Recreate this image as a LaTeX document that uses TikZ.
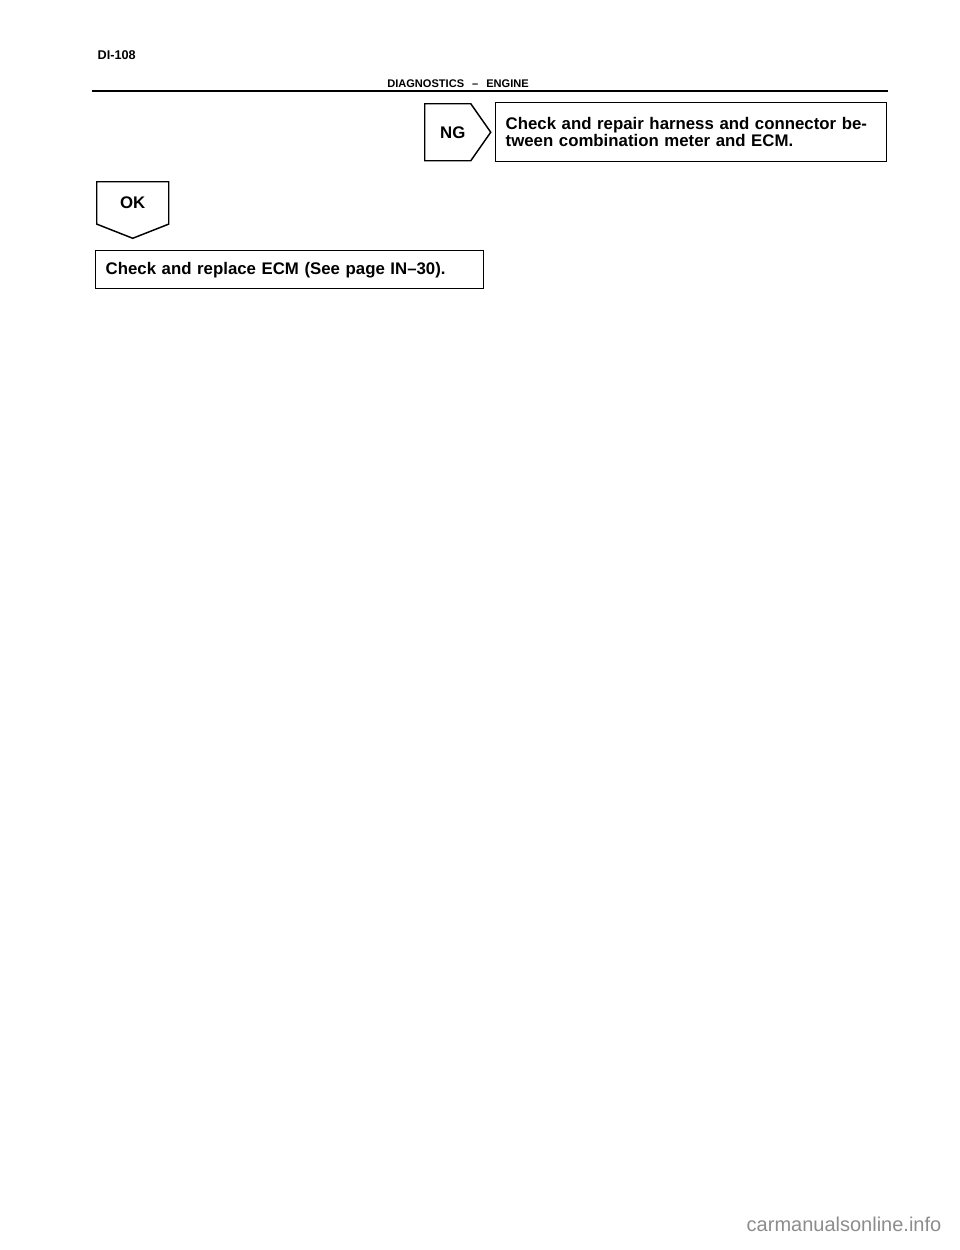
\documentclass[tikz,border=0pt]{standalone}
\usepackage{fontspec}
\setmainfont{Liberation Sans}
\usetikzlibrary{shapes.symbols,positioning}

\begin{document}
\begin{tikzpicture}[x=0.75pt, y=-0.75pt,
    every node/.style={font=\bfseries\fontsize{12.6}{12.75}\selectfont},
    stepbox/.style={draw, line width=1.1pt, rectangle, align=left, anchor=north west, inner xsep=7.5pt},
    tagbox/.style={draw, line width=1.1pt, signal, inner sep=0pt}]
    \useasboundingbox (0,0) rectangle (960,1250);
    % Header
    \node[anchor=west, font=\bfseries\fontsize{9.5}{12}\selectfont] (page) at (93,55) {DI-108};
    \node[font=\bfseries\fontsize{8.3}{9}\selectfont] (title) at (458,84) {DIAGNOSTICS \, -- \, ENGINE};
    \draw[line width=1.2pt] (92,91) -- (888,91);

    % Nodes
    \node[tagbox, signal to=east, signal pointer angle=110, minimum width=49.5pt, minimum height=42.75pt, anchor=north west] (ng) at (424,103) {\hspace{0.6em}NG\hspace{1.1em}};
    \node[stepbox, text width=278pt, minimum height=44pt] (repair) at (495,102) {Check and repair harness and connector be-\\tween combination meter and ECM.};
    \node[tagbox, signal to=south, signal pointer angle=137, minimum width=54pt, minimum height=35.5pt, anchor=north west] (ok) at (96,181) {OK};
    \node[stepbox, text width=276pt, minimum height=28.5pt] (ecm) at (95,250) {Check and replace ECM (See page IN--30).};

    % Footer
    \node[anchor=east, font=\fontsize{15}{18}\selectfont, text=black!45] (site) at (946,1224) {carmanualsonline.info};
\end{tikzpicture}
\end{document}
